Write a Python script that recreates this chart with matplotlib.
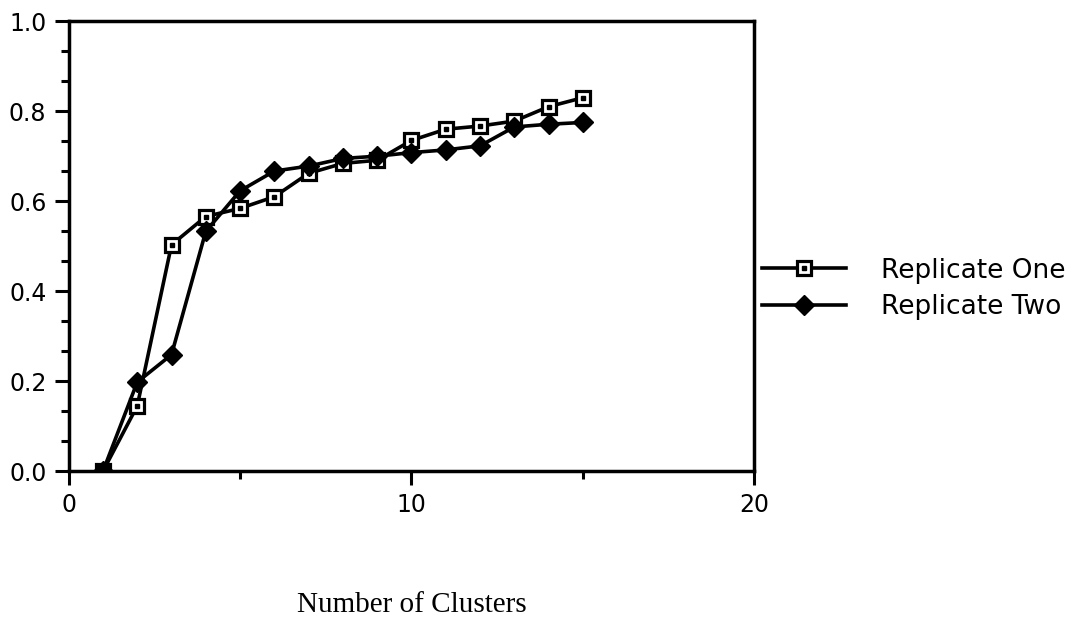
import matplotlib
matplotlib.use("Agg")
import matplotlib.pyplot as plt
from matplotlib.ticker import MultipleLocator

# Datos
clusters = [1, 2, 3, 4, 5, 6, 7, 8, 9, 10, 11, 12, 13, 14, 15]
replicate_one = [0.0, 0.145, 0.503, 0.566, 0.584, 0.61, 0.662, 0.684, 0.691,
                 0.735, 0.76, 0.767, 0.778, 0.81, 0.83]
replicate_two = [0.0, 0.198, 0.259, 0.533, 0.623, 0.667, 0.678, 0.695, 0.70,
                 0.708, 0.714, 0.723, 0.765, 0.771, 0.775]
labels = ["Replicate One", "Replicate Two"]

plt.rcParams["font.family"] = ["DejaVu Sans"]

fig = plt.figure(figsize=(10.9, 6.42), dpi=100)
ax = fig.add_axes([0.063, 0.266, 0.629, 0.701])

# Serie 1: cuadrados blancos con punto negro al centro
l1, = ax.plot(clusters, replicate_one, color="black", lw=2.6, marker="s",
              ms=10, mfc="white", mec="black", mew=2.3, zorder=3)
d1, = ax.plot(clusters, replicate_one, ls="none", marker="s", ms=2.8,
              color="black", zorder=3)
# Serie 2: rombos negros
l2, = ax.plot(clusters, replicate_two, color="black", lw=2.6, marker="D",
              ms=10, mfc="black", mec="black", zorder=4)

ax.set_xlim(0, 20)
ax.set_ylim(0, 1.0)
ax.xaxis.set_major_locator(MultipleLocator(10))
ax.xaxis.set_minor_locator(MultipleLocator(5))
ax.yaxis.set_major_locator(MultipleLocator(0.2))
ax.yaxis.set_minor_locator(MultipleLocator(0.2 / 3))
ax.set_yticklabels(["%.1f" % v for v in ax.get_yticks()])

ax.tick_params(which="major", direction="out", length=10, width=2.2,
               labelsize=17, pad=6)
ax.tick_params(which="minor", direction="out", length=6, width=2.2)
ax.tick_params(axis="x", which="major", pad=6)
for s in ax.spines.values():
    s.set_linewidth(2.5)

ax.legend([(l1, d1), l2], labels, loc="center left",
          bbox_to_anchor=(0.992, 0.405), frameon=False, numpoints=1,
          borderpad=0, handlelength=3.2, handletextpad=1.3,
          labelspacing=0.4, fontsize=19)

fig.text(0.378, 0.058, "Number of Clusters", family="Liberation Serif",
         fontsize=21, ha="center", va="center")

fig.savefig("out.png")
